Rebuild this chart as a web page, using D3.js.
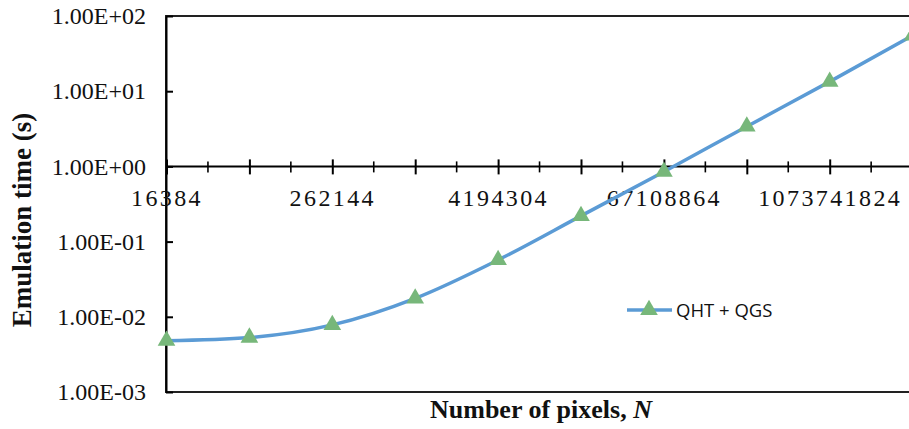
<!DOCTYPE html>
<html>
<head>
<meta charset="utf-8">
<script src="https://cdn.jsdelivr.net/npm/d3@7"></script>
<style>
  html, body { margin: 0; padding: 0; background: #fff; }
  svg { display: block; }
</style>
</head>
<body>
<svg id="chart" width="909" height="429"></svg>
<script>
// Image sizes (pixel counts) along the category axis
const pixelCounts = [16384, 65536, 262144, 1048576, 4194304, 16777216,
                     67108864, 268435456, 1073741824, 4294967296];
// Emulation time in seconds for QHT + QGS
const emulationTimes = [0.0048, 0.0053, 0.0078, 0.0176, 0.057, 0.22,
                        0.85, 3.4, 13.4, 55];
// Decade ticks on the logarithmic time axis and their labels
const yTickValues = [1e-3, 1e-2, 1e-1, 1e0, 1e1, 1e2];
const yTickLabels = ["1.00E-03", "1.00E-02", "1.00E-01", "1.00E+00", "1.00E+01", "1.00E+02"];
const seriesName = "QHT + QGS";

const svg = d3.select("#chart");
const lineColor = "#5b9bd5";
const markerColor = "#77b77a";

const plotLeft = 166, plotTop = 16, plotBottom = 392;
const step = 82.9;

const x = d3.scaleLinear()
  .domain([0, pixelCounts.length - 1])
  .range([plotLeft + 0.5, plotLeft + 0.5 + step * (pixelCounts.length - 1)]);
const y = d3.scaleLog().domain([1e-3, 1e2]).range([plotBottom, plotTop]);

// Plot area frame
svg.append("rect")
  .attr("x", plotLeft).attr("y", plotTop)
  .attr("width", 800).attr("height", plotBottom - plotTop)
  .attr("fill", "none").attr("stroke", "#222").attr("stroke-width", 2);

// Vertical (time) axis with inward ticks
const yAxis = svg.append("g")
  .attr("transform", `translate(${plotLeft},0)`)
  .call(d3.axisLeft(y)
    .tickValues(yTickValues)
    .tickFormat((d, i) => yTickLabels[i])
    .tickSizeInner(-7).tickSizeOuter(0).tickPadding(20));
yAxis.select(".domain").attr("stroke", "#000").attr("stroke-width", 2);
yAxis.selectAll(".tick line").attr("stroke", "#000").attr("stroke-width", 2);
yAxis.selectAll(".tick text")
  .attr("font-family", "'Liberation Serif', 'Times New Roman', serif")
  .attr("font-size", 24).attr("fill", "#111");

// Horizontal (pixel count) axis crossing at 1 s
const y0 = y(1);
const xAxis = svg.append("g")
  .attr("transform", `translate(0,${y0})`)
  .call(d3.axisBottom(x)
    .tickValues(d3.range(pixelCounts.length))
    .tickFormat(i => (i % 2 === 0 ? String(pixelCounts[i]) : ""))
    .tickSizeInner(8).tickSizeOuter(0).tickPadding(0));
xAxis.select(".domain").attr("stroke", "#000").attr("stroke-width", 2)
  .attr("d", `M${plotLeft},0H909`);
xAxis.selectAll(".tick line").attr("y1", -7).attr("stroke", "#000").attr("stroke-width", 2);
xAxis.selectAll(".tick text")
  .attr("y", 40).attr("dy", null)
  .attr("font-family", "'Liberation Serif', 'Times New Roman', serif")
  .attr("font-size", 24).attr("letter-spacing", 2.4).attr("fill", "#111");

// Minor ticks midway between categories
svg.append("g").selectAll("line")
  .data(d3.range(pixelCounts.length - 1).map(i => i + 0.5))
  .join("line")
  .attr("x1", d => x(d)).attr("x2", d => x(d))
  .attr("y1", y0 - 5).attr("y2", y0 + 6)
  .attr("stroke", "#000").attr("stroke-width", 1.6);

// Smoothed series line
const line = d3.line()
  .x((d, i) => x(i))
  .y(d => y(d))
  .curve(d3.curveMonotoneX);
svg.append("path")
  .datum(emulationTimes)
  .attr("d", line)
  .attr("fill", "none")
  .attr("stroke", lineColor)
  .attr("stroke-width", 3.5);

// Triangle markers
const tri = d3.symbol().type(d3.symbolTriangle).size(135);
svg.append("g").selectAll("path")
  .data(emulationTimes)
  .join("path")
  .attr("d", tri)
  .attr("transform", (d, i) => `translate(${x(i)},${y(d)})`)
  .attr("fill", markerColor);

// Legend
const legend = svg.append("g").attr("transform", "translate(627,310)");
legend.append("line")
  .attr("x1", 0).attr("x2", 45).attr("y1", 0).attr("y2", 0)
  .attr("stroke", lineColor).attr("stroke-width", 3.5);
legend.append("path")
  .attr("d", tri)
  .attr("transform", "translate(22,0)")
  .attr("fill", markerColor);
legend.append("text")
  .attr("x", 49).attr("y", 0).attr("dy", "0.36em")
  .attr("font-family", "'Open Sans', 'Liberation Sans', sans-serif")
  .attr("font-size", 18.5).attr("fill", "#111")
  .text(seriesName);

// Axis titles
const titleX = svg.append("text")
  .attr("x", 541).attr("y", 418)
  .attr("text-anchor", "middle")
  .attr("font-family", "'Liberation Serif', 'Times New Roman', serif")
  .attr("font-weight", "bold").attr("font-size", 26).attr("fill", "#111");
titleX.append("tspan").text("Number of pixels, ");
titleX.append("tspan").attr("font-style", "italic").text("N");

svg.append("text")
  .attr("transform", "translate(31,220) rotate(-90)")
  .attr("text-anchor", "middle")
  .attr("font-family", "'Liberation Serif', 'Times New Roman', serif")
  .attr("font-weight", "bold").attr("font-size", 27).attr("fill", "#111")
  .text("Emulation time (s)");
</script>
</body>
</html>
